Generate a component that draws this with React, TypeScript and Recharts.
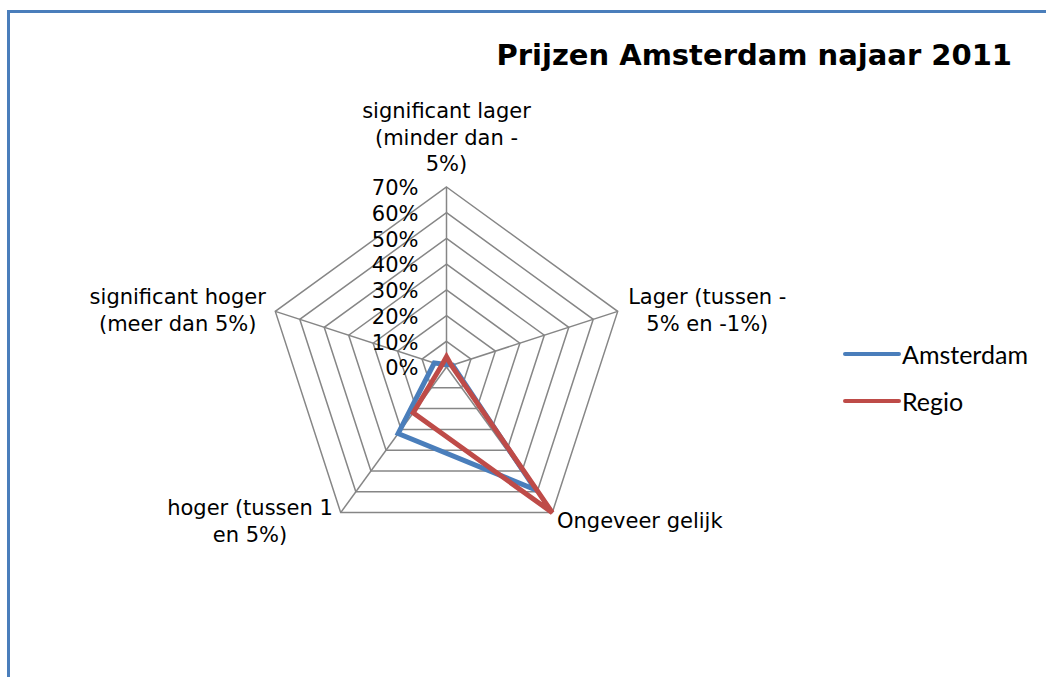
import { RadarChart, Radar, PolarGrid, PolarAngleAxis, PolarRadiusAxis, Legend } from "recharts";

// categories (label lines), clockwise from the top
const categoryLines = [
  ["significant lager", "(minder dan -", "5%)"],
  ["Lager (tussen -", "5% en -1%)"],
  ["Ongeveer gelijk"],
  ["hoger (tussen 1", "en 5%)"],
  ["significant hoger", "(meer dan 5%)"],
];
// values in percent
const amsterdam = [1, 2.5, 59, 32, 5];
const regio = [4, 2, 70, 22, 2];
const radiusTicks = [0, 10, 20, 30, 40, 50, 60, 70];

const data = categoryLines.map((lines, i) => ({
  name: lines.join(" "),
  Amsterdam: amsterdam[i],
  Regio: regio[i],
}));

const labelFont = "'DejaVu Sans', Verdana, sans-serif";

// where each category label sits relative to the axis tick point
const labelLayout = [
  { dx: 0, dy: -68, anchor: "middle" },
  { dx: 82, dy: -12, anchor: "middle" },
  { dx: 0, dy: 2, anchor: "start" },
  { dx: -86, dy: -11, anchor: "middle" },
  { dx: -90, dy: -12, anchor: "middle" },
];

const AngleTick = (props: any) => {
  const { x, y, payload, index } = props;
  const idx = index ?? data.findIndex((d) => d.name === payload.value);
  const lines = categoryLines[idx] || [payload.value];
  const l = labelLayout[idx];
  return (
    <text
      x={x + l.dx}
      y={y + l.dy}
      textAnchor={l.anchor}
      fontFamily={labelFont}
      fontSize={21}
      fill="#000"
    >
      {lines.map((t, i) => (
        <tspan key={i} x={x + l.dx} dy={i === 0 ? "0.35em" : 26.5}>
          {t}
        </tspan>
      ))}
    </text>
  );
};

const RadiusTick = (props: any) => {
  const { x, y, payload } = props;
  return (
    <text x={x - 28} y={y + 1} dy="0.35em" textAnchor="end" fontFamily={labelFont} fontSize={21} fill="#000">
      {payload.value}%
    </text>
  );
};

const LegendContent = (props: any) => {
  const { payload } = props;
  return (
    <div>
      {(payload || []).map((p: any, i: number) => (
        <div key={i} style={{ display: "flex", alignItems: "center", height: 47 }}>
          <svg width={58} height={10}>
            <line x1={2} y1={5} x2={56} y2={5} stroke={p.color} strokeWidth={4} strokeLinecap="round" />
          </svg>
          <span style={{ fontFamily: "Lato, sans-serif", fontSize: 25, color: "#000", marginLeft: 1 }}>{p.value}</span>
        </div>
      ))}
    </div>
  );
};

export default function App() {
  return (
    <div style={{ position: "absolute", left: 0, top: 0, width: 1046, height: 677, overflow: "hidden", background: "#fff" }}>
      <div
        style={{
          position: "absolute",
          left: 7,
          top: 10,
          width: 1200,
          height: 1000,
          borderTop: "3px solid #4a7ebb",
          borderLeft: "3px solid #4a7ebb",
        }}
      />
      <div
        style={{
          position: "absolute",
          right: 34,
          top: 41,
          fontFamily: labelFont,
          fontWeight: "bold",
          fontSize: 29,
          lineHeight: "29px",
          color: "#000",
          whiteSpace: "nowrap",
        }}
      >
        Prijzen Amsterdam najaar 2011
      </div>
      <div style={{ position: "absolute", left: 0, top: 0 }}>
        <RadarChart width={1046} height={677} data={data} cx={446.5} cy={367} outerRadius={180}>
          <PolarGrid gridType="polygon" stroke="#868686" strokeWidth={1.5} />
          <PolarAngleAxis dataKey="name" tick={<AngleTick />} tickLine={false} axisLine={false} />
          <PolarRadiusAxis
            type="number"
            angle={90}
            domain={[0, 70]}
            ticks={radiusTicks}
            axisLine={false}
            tick={<RadiusTick />}
          />
          <Radar
            name="Amsterdam"
            dataKey="Amsterdam"
            stroke="#4a7ebb"
            strokeWidth={5}
            fill="none"
            dot={false}
            isAnimationActive={false}
          />
          <Radar
            name="Regio"
            dataKey="Regio"
            stroke="#be4b48"
            strokeWidth={5}
            fill="none"
            dot={false}
            isAnimationActive={false}
          />
          <Legend
            layout="vertical"
            content={<LegendContent />}
            wrapperStyle={{ left: 843, top: 330, width: 200, bottom: "auto" }}
          />
        </RadarChart>
      </div>
    </div>
  );
}
